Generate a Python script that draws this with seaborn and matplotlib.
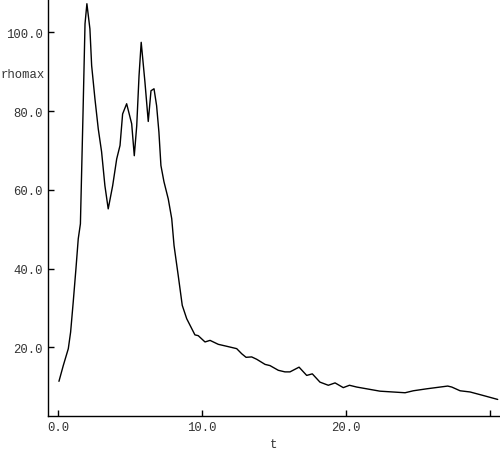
import numpy as np
import pandas as pd
import matplotlib
matplotlib.use("Agg")
import matplotlib.pyplot as plt
import seaborn as sns

t = [0.07, 0.37, 0.72, 0.88, 1.06, 1.25, 1.41, 1.56, 1.74, 1.88, 2.01,
     2.22, 2.34, 2.57, 2.80, 3.03, 3.26, 3.49, 3.80, 4.08, 4.31, 4.49, 4.77,
     5.12, 5.30, 5.47, 5.63, 5.78, 6.04, 6.27, 6.46, 6.67, 6.85, 7.01, 7.15,
     7.36, 7.66, 7.90, 8.06, 8.17, 8.35, 8.63, 8.94, 9.51, 9.74, 10.21, 10.56,
     11.13, 11.72, 12.41, 12.76, 13.06, 13.45, 13.80, 14.38, 14.72, 15.30,
     15.76, 16.11, 16.74, 17.27, 17.66, 18.19, 18.77, 19.24, 19.81, 20.24,
     20.74, 22.36, 24.10, 24.67, 25.60, 27.06, 27.34, 27.92, 28.61, 29.53, 30.53]
rhomax = [11.4, 15.4, 19.7, 23.9, 31.5, 40.0, 47.6, 51.4, 79.3, 102.2, 107.3,
          100.9, 91.6, 83.1, 75.5, 69.7, 61.1, 55.2, 61.1, 67.9, 71.3, 79.3, 81.9,
          76.8, 68.7, 76.3, 89.0, 97.5, 87.4, 77.4, 85.2, 85.7, 81.4, 74.7, 66.2,
          62.1, 57.7, 52.7, 45.9, 43.0, 38.3, 30.7, 27.3, 23.2, 23.0, 21.4, 21.8,
          20.8, 20.3, 19.7, 18.4, 17.5, 17.6, 17.0, 15.7, 15.4, 14.2,
          13.8, 13.8, 15.0, 12.9, 13.3, 11.2, 10.4, 11.0, 9.8, 10.4,
          9.95, 8.9, 8.5, 9.0, 9.5, 10.2, 9.95, 9.0, 8.7, 7.8, 6.8]

xticks = [0, 10, 20, 30]
xticklabels = ["0.0", "10.0", "20.0", ""]
yticks = [20, 40, 60, 80, 100]
yticklabels = ["20.0", "40.0", "60.0", "80.0", "100.0"]

df = pd.DataFrame({"t": t, "rhomax": rhomax})

sns.set_style("ticks")
plt.rcParams["font.family"] = ["Liberation Mono", "DejaVu Sans Mono"]

fig = plt.figure(figsize=(5.0, 4.52), dpi=100)
ax = fig.add_axes([0.096, 0.078, 0.904, 0.922])
sns.lineplot(data=df, x="t", y="rhomax", ax=ax, color="black", linewidth=1.0,
             estimator=None, sort=False)

ax.set_xlim(-0.69, 30.69)
ax.set_ylim(2.66, 108.5)
ax.set_xticks(xticks)
ax.set_xticklabels(xticklabels)
ax.set_yticks(yticks)
ax.set_yticklabels(yticklabels)

for s in ["top", "right"]:
    ax.spines[s].set_visible(False)
for s in ["left", "bottom"]:
    ax.spines[s].set_color("black")
    ax.spines[s].set_linewidth(1.0)

ax.tick_params(direction="in", length=4.3, width=1.0, color="black",
               labelsize=8.8, labelcolor="#333333", pad=4)

ax.set_xlabel("t", fontsize=8.8, color="#333333", va="center")
ax.xaxis.set_label_coords(0.5, -0.068)
ax.set_ylabel("rhomax", fontsize=8.8, color="#333333", rotation=0,
              ha="right", va="center")
ax.yaxis.set_label_coords(-0.008, 0.82)

fig.savefig("out.png", dpi=100)
